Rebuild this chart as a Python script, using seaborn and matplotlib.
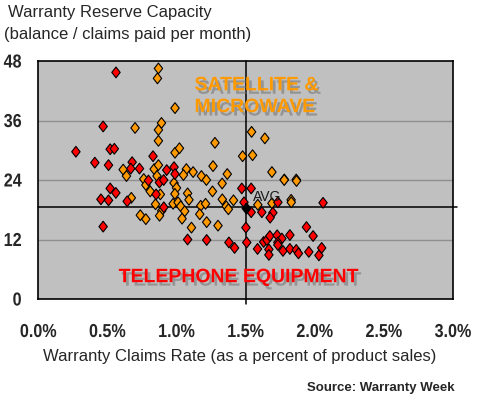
import numpy as np
import pandas as pd
import matplotlib
matplotlib.use("Agg")
import matplotlib.pyplot as plt
import matplotlib.patheffects as pe
from matplotlib.path import Path
from matplotlib.transforms import Affine2D
from matplotlib.ticker import MultipleLocator, FuncFormatter
import seaborn as sns

# ---- data (x: warranty claims rate %, y: months of reserve) ----
sat_x = [0.869, 0.862, 0.989, 0.700, 0.891, 0.869, 0.869, 0.989, 1.021, 1.278,
         1.478, 1.550, 1.543, 1.639, 1.264, 1.367, 1.690, 1.780, 1.866, 0.614,
         0.638, 0.838, 0.869, 0.859, 1.071, 1.120, 1.050, 1.180, 1.216, 0.763,
         0.778, 0.982, 1.000, 0.810, 0.883, 0.988, 1.080, 1.090, 0.673, 0.848,
         0.893, 0.877, 0.975, 1.011, 1.030, 1.059, 1.040, 0.738, 0.778, 1.108,
         1.175, 1.210, 1.168, 1.218, 1.300, 1.260, 1.330, 1.331, 1.360, 1.375,
         1.412, 1.779, 1.868, 1.829, 1.588, 1.690, 1.830]
sat_y = [46.5, 44.5, 38.5, 34.5, 35.5, 34.1, 31.9, 29.5, 30.4, 31.5,
         28.8, 29.0, 33.7, 32.4, 26.8, 25.2, 25.6, 24.1, 24.1, 26.1,
         24.8, 26.2, 27.0, 24.8, 26.2, 25.6, 25.0, 24.8, 24.0, 24.2,
         23.0, 23.4, 22.4, 21.7, 21.1, 21.2, 21.3, 20.0, 20.4, 19.1,
         17.8, 16.8, 19.2, 19.5, 18.7, 17.7, 16.2, 16.9, 16.1, 14.4,
         18.8, 19.2, 17.1, 15.5, 14.8, 21.7, 23.3, 20.1, 18.7, 18.1,
         19.9, 24.0, 23.8, 20.0, 19.0, 19.3, 19.5]

tel_x = [0.562, 0.469, 0.272, 0.520, 0.550, 0.830, 0.409, 0.508, 0.679, 0.669,
         0.732, 0.929, 0.982, 0.989, 0.797, 0.876, 0.907, 0.520, 0.561, 0.453,
         0.508, 0.643, 0.852, 0.908, 0.469, 1.080, 1.218, 1.379, 1.420, 1.502,
         1.508, 1.472, 1.540, 1.488, 1.733, 2.060, 1.540, 1.617, 1.697, 1.677,
         1.940, 1.988, 1.820, 1.586, 1.630, 1.654, 1.675, 1.728, 1.762, 1.733,
         1.733, 1.668, 1.668, 1.770, 1.820, 1.866, 1.882, 1.957, 2.030, 2.050]
tel_y = [45.7, 34.8, 29.7, 30.2, 30.3, 28.8, 27.5, 27.0, 27.6, 26.3,
         26.3, 26.0, 26.6, 25.2, 23.9, 23.5, 24.0, 22.3, 21.4, 20.1,
         19.9, 19.7, 21.1, 18.5, 14.6, 12.0, 11.9, 11.4, 10.3, 14.4,
         11.4, 22.3, 22.3, 19.5, 19.5, 19.4, 17.5, 17.5, 17.4, 16.4,
         14.5, 12.7, 12.9, 10.1, 11.5, 11.9, 12.7, 12.85, 12.2, 11.4,
         10.9, 10.0, 8.9, 9.7, 10.1, 9.9, 9.2, 9.5, 8.8, 10.3]

avg_x = 1.50
avg_y = 18.5

x_ticks = [0.0, 0.5, 1.0, 1.5, 2.0, 2.5, 3.0]
y_ticks = [0, 12, 24, 36, 48]

df = pd.DataFrame({
    "rate": sat_x + tel_x,
    "reserve": sat_y + tel_y,
    "segment": ["Satellite & Microwave"] * len(sat_x) + ["Telephone Equipment"] * len(tel_x),
})


class Condense(pe.AbstractPathEffect):
    """Horizontally squeeze text (imitates a narrow typeface)."""
    def __init__(self, sx=0.8, anchor="center"):
        super().__init__()
        self.sx = sx
        self.anchor = anchor

    def draw_path(self, renderer, gc, tpath, affine, rgbFace=None):
        v = affine.transform(tpath.vertices)
        if len(v):
            if self.anchor == "right":
                cx = v[:, 0].max()
            elif self.anchor == "left":
                cx = v[:, 0].min()
            else:
                cx = 0.5 * (v[:, 0].min() + v[:, 0].max())
        else:
            cx = 0
        new_aff = affine + Affine2D().translate(-cx, 0).scale(self.sx, 1).translate(cx, 0)
        renderer.draw_path(gc, tpath, new_aff, rgbFace)


# ---- style ----
sns.set_style("white")
plt.rcParams["font.family"] = ["Liberation Sans", "DejaVu Sans"]

fig = plt.figure(figsize=(4.8, 4.0), dpi=100)
ax = fig.add_axes([38.3 / 480, 1 - 299 / 400, (453 - 38.3) / 480, (299 - 61) / 400])
ax.set_facecolor("#C0C0C0")

diamond = Path([(0, 1), (0.78, 0), (0, -1), (-0.78, 0), (0, 1)],
               [Path.MOVETO, Path.LINETO, Path.LINETO, Path.LINETO, Path.CLOSEPOLY])

# grid lines at 12,24,36
for gy in [12, 24, 36]:
    ax.axhline(gy, color="#8F8F8F", lw=1.0, zorder=0.5)

# average lines
ax.axhline(avg_y, color="black", lw=1.1, zorder=1, xmax=1.01, clip_on=False)
ax.axvline(avg_x, color="black", lw=1.1, zorder=1, ymin=-0.02, clip_on=False)

sns.scatterplot(data=df, x="rate", y="reserve", hue="segment",
                palette={"Satellite & Microwave": "#FF9900", "Telephone Equipment": "#FF0000"},
                marker=diamond, s=60, edgecolor="black", linewidth=0.8,
                legend=False, ax=ax, zorder=3)
ax.scatter([avg_x], [avg_y - 0.2], marker=diamond, s=60, color="black", zorder=4)

ax.set_xlim(0, 3.0)
ax.set_ylim(0, 48)
ax.set_xticks(x_ticks)
ax.set_yticks(y_ticks)
ax.xaxis.set_minor_locator(MultipleLocator(0.1))
ax.yaxis.set_minor_locator(MultipleLocator(1.2))
ax.xaxis.set_major_formatter(FuncFormatter(lambda v, p: f"{v:.1f}%"))
ax.tick_params(axis="both", which="both", direction="out", color="black")
ax.tick_params(axis="x", which="major", length=7, width=1, pad=11)
ax.tick_params(axis="x", which="minor", length=4, width=0.8)
ax.tick_params(axis="y", which="major", length=5, width=1, pad=7)
ax.tick_params(axis="y", which="minor", length=4, width=0.8)
for lab in ax.get_xticklabels():
    lab.set_fontweight("bold")
    lab.set_fontsize(13.5)
    lab.set_path_effects([Condense(0.86, "center")])
for lab in ax.get_yticklabels():
    lab.set_fontweight("bold")
    lab.set_fontsize(13.5)
    lab.set_path_effects([Condense(0.86, "right")])
for s in ax.spines.values():
    s.set_color("black")
    s.set_linewidth(1.2)
ax.set_xlabel("")
ax.set_ylabel("")

shadow = [pe.SimplePatchShadow(offset=(2, -2.5), shadow_rgbFace="#707070", alpha=0.55), pe.Normal()]
ax.text(1.13, 43.0, "SATELLITE &", color="#FF9900", fontsize=14, fontweight="bold",
        ha="left", va="center", path_effects=shadow, zorder=5)
ax.text(1.13, 38.6, "MICROWAVE", color="#FF9900", fontsize=14, fontweight="bold",
        ha="left", va="center", path_effects=shadow, zorder=5)
ax.text(1.45, 4.3, "TELEPHONE EQUIPMENT", color="#FF0000", fontsize=14, fontweight="bold",
        ha="center", va="center", path_effects=shadow, zorder=5)
ax.text(1.55, 20.5, "AVG", color="#1a1a1a", fontsize=10, ha="left", va="center", zorder=5)

fig.text(8 / 480, 1 - 13 / 400, "Warranty Reserve Capacity", fontsize=12, ha="left", va="center")
fig.text(4 / 480, 1 - 34 / 400, "(balance / claims paid per month)", fontsize=12, ha="left", va="center")
fig.text(240 / 480, 1 - 357 / 400, "Warranty Claims Rate (as a percent of product sales)",
         fontsize=12, ha="center", va="center")
fig.text(455 / 480, 1 - 388 / 400, "Source: Warranty Week", fontsize=9.5, fontweight="bold",
         ha="right", va="center")

fig.savefig("out.png", dpi=100, facecolor="white")
